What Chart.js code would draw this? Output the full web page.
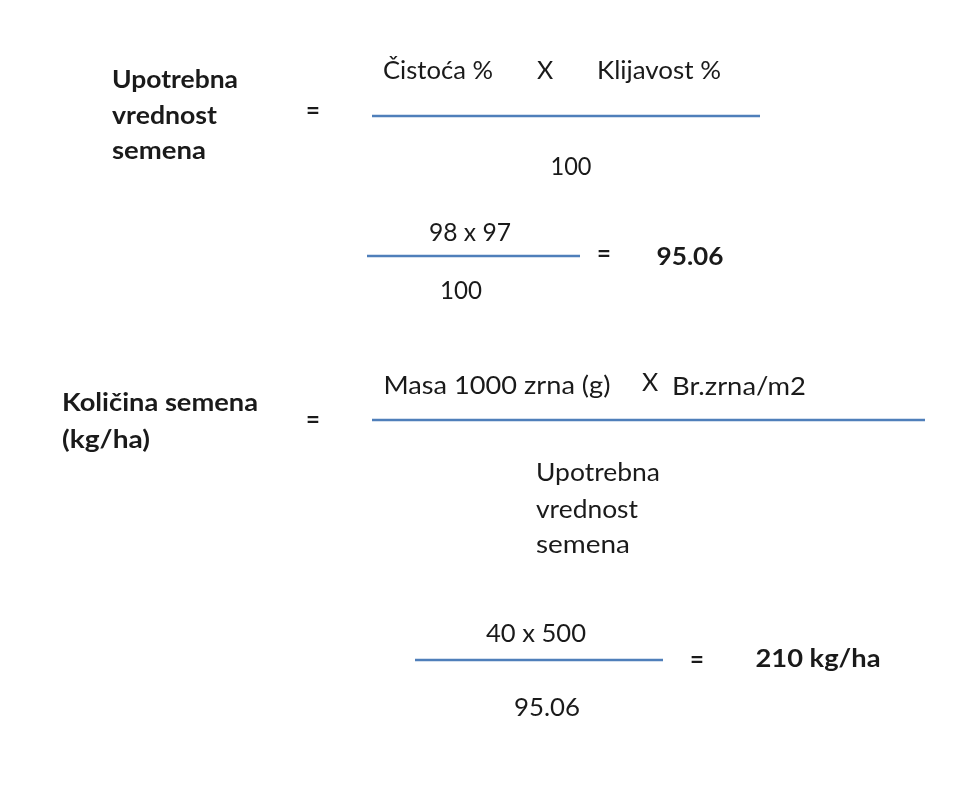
<!DOCTYPE html>
<html><head><meta charset="utf-8">
<script src="https://cdn.jsdelivr.net/npm/chart.js@4"></script>
<style>html,body{margin:0;padding:0;background:#fff}#wrap{width:972px;height:785px;position:relative}</style>
</head><body><div id="wrap"><canvas id="c"></canvas></div>
<script>
// Text content of the formula sheet
const labels = [
  "Upotrebna", "vrednost", "semena", "=",
  "Čistoća %", "X", "Klijavost %", "100",
  "98 x 97", "=", "95.06", "100",
  "Količina semena", "(kg/ha)", "=",
  "Masa 1000 zrna (g)", "X", "Br.zrna/m2",
  "Upotrebna", "vrednost", "semena",
  "40 x 500", "=", "210 kg/ha", "95.06"
];
// Which labels are bold
const boldFlags = [1,1,1,1, 0,0,0,0, 0,1,1,0, 1,1,1, 0,0,0, 0,0,0, 0,1,1, 0];
// Layout: anchor x, middle y, alignment, target width (0 = natural)
const labelX = [112,112,112,313, 438,545,659,571, 470,604,690,461, 62,62,313, 497,650,739, 536,536,536, 536,697,818,547];
const labelY = [80,116,151,111, 71,71,71,167, 233,254,257,291, 403,440,420, 386,383,387, 473,510,545, 634,660,659,708];
const labelAlign = ['left','left','left','center', 'center','center','center','center', 'center','center','center','center',
  'left','left','center', 'center','center','center', 'left','left','left', 'center','center','center','center'];
const labelW = [126,105,94,0, 110,0,124,41, 82,0,67,42, 196,88,0, 227,0,134, 124,102,94, 100,0,125,66];
// Fraction bars: start x, end x, y
const barX1 = [372, 367, 372, 415];
const barX2 = [760, 580, 925, 663];
const barY  = [116, 256, 420, 660];

const datasets = barY.map((y,i)=>({
  type:'line',
  data:[{x:barX1[i],y:y},{x:barX2[i],y:y}],
  borderColor:'#4f7fba', borderWidth:2.4, pointRadius:0, fill:false
}));

const textPlugin = {
  id:'texts',
  afterDatasetsDraw(chart){
    const ctx = chart.ctx, xs = chart.scales.x, ys = chart.scales.y;
    ctx.save();
    ctx.textBaseline = 'middle';
    ctx.fillStyle = '#1a1a1a';
    labels.forEach((t,i)=>{
      ctx.font = (boldFlags[i] ? 'bold 24px ' : '25px ') + 'Lato, "Open Sans", sans-serif';
      ctx.textAlign = labelAlign[i];
      const px = xs.getPixelForValue(labelX[i]), py = ys.getPixelForValue(labelY[i]);
      const w = ctx.measureText(t).width;
      const k = labelW[i] ? labelW[i] / w : 1;
      ctx.save();
      ctx.translate(px, py);
      ctx.scale(k, 1);
      ctx.fillText(t, 0, 0);
      ctx.restore();
    });
    ctx.restore();
  }
};

new Chart(document.getElementById('c'), {
  type:'scatter',
  data:{datasets},
  options:{
    responsive:true, maintainAspectRatio:false, animation:false,
    layout:{padding:0},
    plugins:{legend:{display:false}, tooltip:{enabled:false}},
    scales:{
      x:{type:'linear', min:0, max:972, display:false},
      y:{type:'linear', min:0, max:785, reverse:true, display:false}
    }
  },
  plugins:[textPlugin]
});
</script></body></html>
